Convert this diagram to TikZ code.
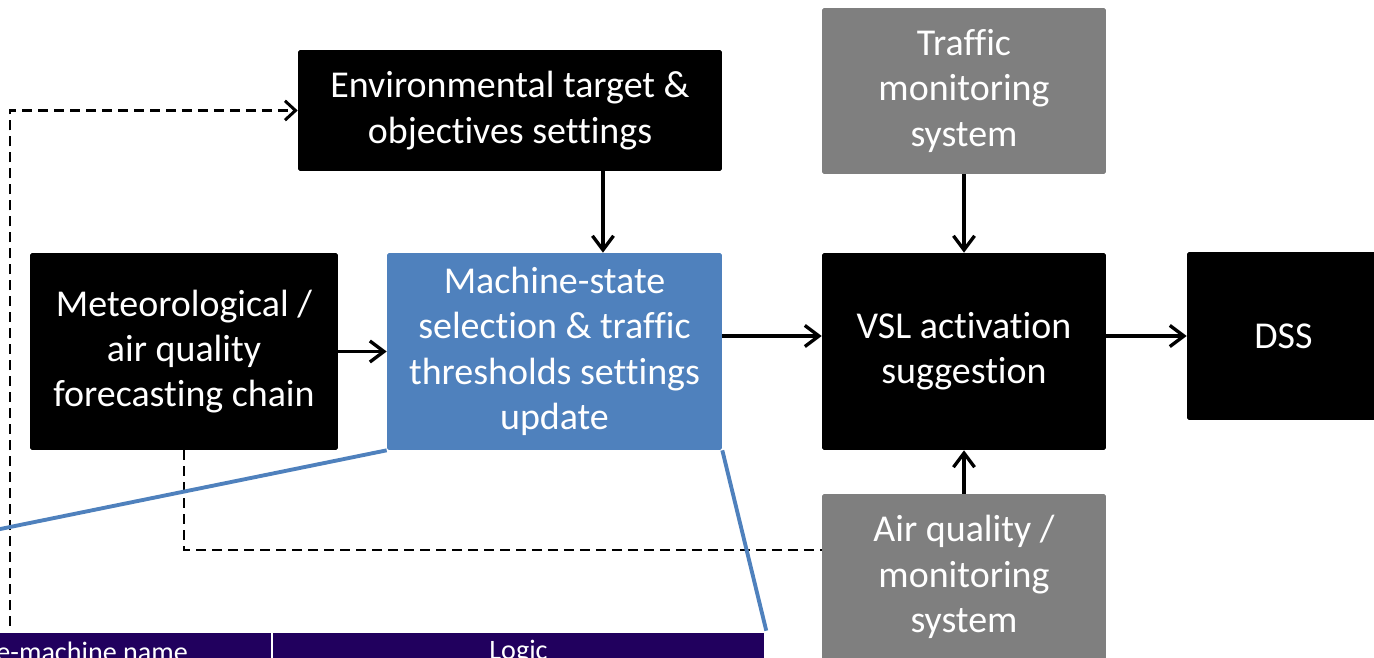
\documentclass[tikz,border=0pt]{standalone}
\usepackage{fontspec}
\setmainfont{Carlito}[Ligatures=NoCommon]
\usetikzlibrary{arrows.meta}
\definecolor{boxblue}{RGB}{79,129,189}
\definecolor{boxgray}{RGB}{127,127,127}
\definecolor{tabpurple}{RGB}{33,0,94}

\begin{document}
\begin{tikzpicture}[x=0.02cm, y=-0.02cm,
    box/.style={rectangle, rounded corners=1pt, fill=black, text=white, align=center, inner sep=0pt, font=\fontsize{21.6}{25.8}\selectfont},
    graybox/.style={box, fill=boxgray},
    bluebox/.style={box, fill=boxblue},
    tabcell/.style={rectangle, fill=tabpurple, draw=white, line width=1.5pt, minimum height=0.8cm, inner sep=0pt},
    tabtext/.style={text=white, inner sep=0pt, font=\fontsize{16}{19}\selectfont},
    arr/.style={-{Straight Barb[length=8pt,width=12pt]}, line width=1.9pt},
    dashline/.style={dash pattern=on 5.7pt off 3.4pt, line width=1.7pt},
    callout/.style={boxblue, line width=2.2pt}]
    \clip (0,0) rectangle (1374,658);

    % boxes
    \node[box, minimum width=8.48cm, minimum height=2.42cm] (env) at (510,110.5) {Environmental target \&\\objectives settings};
    \node[graybox, minimum width=5.68cm, minimum height=3.32cm] (traf) at (964,91) {Traffic\\monitoring\\system};
    \node[box, minimum width=6.16cm, minimum height=3.94cm] (met) at (184,351.5) {Meteorological /\\air quality\\forecasting chain};
    \node[bluebox, minimum width=6.7cm, minimum height=3.94cm] (mach) at (554.5,351.5) {Machine-state\\selection \& traffic\\thresholds settings\\update};
    \node[box, minimum width=5.68cm, minimum height=3.94cm] (vsl) at (964,351.5) {VSL activation\\suggestion};
    \node[box, minimum width=3.86cm, minimum height=3.36cm] (dss) at (1283.5,336) {DSS};
    \node[graybox, minimum width=5.68cm, minimum height=3.32cm] (air) at (964,577) {Air quality /\\monitoring\\system};

    % table (zoomed part)
    \node[tabcell, minimum width=15.4cm] (colA) at (-113,652) {};
    \node[tabcell, minimum width=9.86cm] (colB) at (518.5,652) {};
    \node[tabtext] (nameA) at (70,652) {State-machine name};
    \node[tabtext] (nameB) at (colB) {Logic};

    % connectors
    \draw[arr] ([xshift=1.86cm]env.south) -- ([xshift=1.86cm]env.south |- mach.north);
    \draw[arr] (traf.south) -- (vsl.north);
    \draw[arr] (met.east) -- (mach.west);
    \draw[arr] (mach.east |- dss.west) -- (vsl.west |- dss.west);
    \draw[arr] (vsl.east |- dss.west) -- (dss.west);
    \draw[arr] (air.north) -- (vsl.south);

    \coordinate (fb) at (10,626);
    \draw[dashline, -{Straight Barb[length=6pt,width=11pt]}] (fb) |- (env.west);
    \draw[dashline] (met.south) |- ([yshift=0.54cm]air.west);

    \draw[callout] (mach.south west) -- (colA.north west);
    \draw[callout] (mach.south east) -- (colB.north east);
\end{tikzpicture}
\end{document}
